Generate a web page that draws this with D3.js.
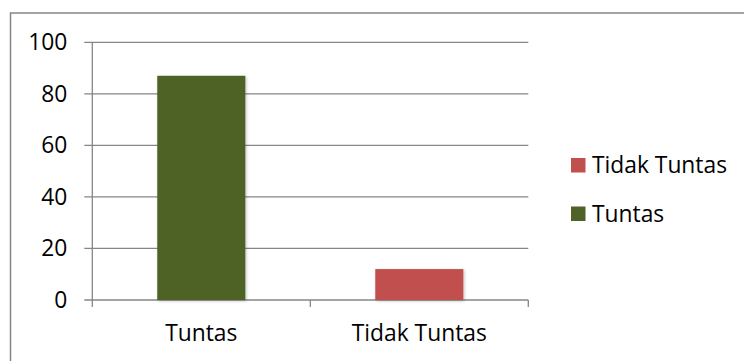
<!DOCTYPE html>
<html>
<head>
<meta charset="utf-8">
<script src="https://cdn.jsdelivr.net/npm/d3@7"></script>
<style>
  body { margin: 0; background: #fff; }
  svg { display: block; font-family: "Open Sans", sans-serif; }
</style>
</head>
<body>
<div id="chart"></div>
<script>
// data
const categories = ["Tuntas", "Tidak Tuntas"];
const values = [87, 12];
const barColors = ["#4F6228", "#C0504D"];
const yTicks = [0, 20, 40, 60, 80, 100];
const legendItems = ["Tidak Tuntas", "Tuntas"];
const legendColors = ["#C0504D", "#4F6228"];

const W = 744, H = 361;
const margin = {top: 42.3, right: 215.7, bottom: 61, left: 92.3};
const width = W - margin.left - margin.right;
const height = H - margin.top - margin.bottom;

const root = d3.select("#chart").append("svg")
    .attr("width", W)
    .attr("height", H);

// drop shadow like office charts
const defs = root.append("defs");
const f = defs.append("filter").attr("id", "shadow")
    .attr("x", "-20%").attr("y", "-20%").attr("width", "140%").attr("height", "140%");
f.append("feDropShadow")
    .attr("dx", 1).attr("dy", 1).attr("stdDeviation", 1.5)
    .attr("flood-color", "#000").attr("flood-opacity", 0.25);

// outer frame (cropped at right/bottom)
root.append("rect")
    .attr("x", 10.5).attr("y", 13)
    .attr("width", 760).attr("height", 380)
    .attr("fill", "none")
    .attr("stroke", "#868686")
    .attr("stroke-width", 1.5);

const svg = root.append("g")
    .attr("transform", `translate(${margin.left},${margin.top})`);

const x = d3.scaleBand().domain(categories).range([0, width]).paddingInner(0.596).paddingOuter(0.298);
const xb = d3.scaleBand().domain(categories).range([0, width]);
const y = d3.scaleLinear().domain([0, 100]).range([height, 0]);

// gridlines
svg.append("g")
  .selectAll("line")
  .data(yTicks)
  .join("line")
    .attr("x1", -8)
    .attr("x2", width)
    .attr("y1", d => y(d))
    .attr("y2", d => y(d))
    .attr("stroke", "#868686")
    .attr("stroke-width", 1.3);

// y axis line
svg.append("line")
    .attr("x1", 0).attr("x2", 0)
    .attr("y1", 0).attr("y2", height)
    .attr("stroke", "#868686")
    .attr("stroke-width", 1.3);

// y labels
svg.append("g")
  .selectAll("text")
  .data(yTicks)
  .join("text")
    .attr("x", -25)
    .attr("y", d => y(d))
    .attr("dy", "0.35em")
    .attr("text-anchor", "end")
    .attr("font-size", "22.8px")
    .attr("fill", "#000")
    .text(d => d);

// x category ticks
svg.append("g")
  .selectAll("line")
  .data([0, 1, 2])
  .join("line")
    .attr("x1", d => d * xb.bandwidth())
    .attr("x2", d => d * xb.bandwidth())
    .attr("y1", height)
    .attr("y2", height + 7)
    .attr("stroke", "#868686")
    .attr("stroke-width", 1.3);

// bars
svg.append("g")
  .selectAll("rect")
  .data(values)
  .join("rect")
    .attr("x", (d, i) => x(categories[i]))
    .attr("y", d => y(d))
    .attr("width", x.bandwidth())
    .attr("height", d => height - y(d))
    .attr("fill", (d, i) => barColors[i])
    .attr("filter", "url(#shadow)");

// x labels
svg.append("g")
  .selectAll("text")
  .data(categories)
  .join("text")
    .attr("x", d => xb(d) + xb.bandwidth() / 2)
    .attr("y", height + 41)
    .attr("text-anchor", "middle")
    .attr("font-size", "22.8px")
    .attr("fill", "#000")
    .text(d => d);

// legend
const legend = root.append("g")
    .attr("transform", "translate(571, 158)");

legend.selectAll("rect")
  .data(legendItems)
  .join("rect")
    .attr("x", 0)
    .attr("y", (d, i) => i * 48.5)
    .attr("width", 14.5)
    .attr("height", 14.5)
    .attr("fill", (d, i) => legendColors[i]);

legend.selectAll("text")
  .data(legendItems)
  .join("text")
    .attr("x", 21)
    .attr("y", (d, i) => i * 48.5 + 15)
    .attr("font-size", "22.8px")
    .attr("fill", "#000")
    .text(d => d);
</script>
</body>
</html>
